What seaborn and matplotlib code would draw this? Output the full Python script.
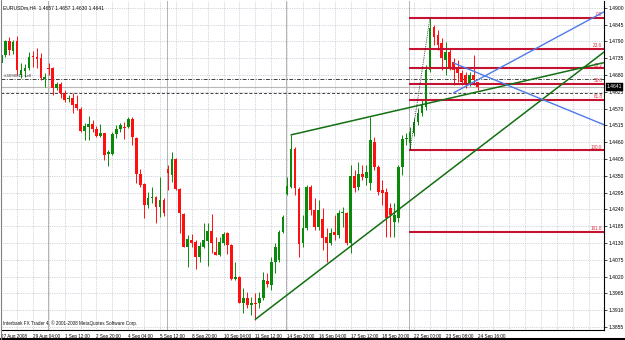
import numpy as np
import pandas as pd
import matplotlib
matplotlib.use("Agg")
import matplotlib.pyplot as plt
from matplotlib.lines import Line2D
import seaborn as sns

# ---------------- data (EURUSDm, H4) ----------------
opens = [1.4719, 1.4745, 1.4791, 1.4759, 1.4791, 1.4680, 1.4693, 1.4703, 1.4742, 1.4739,
         1.4736, 1.4667, 1.4703, 1.4703, 1.4638, 1.4651, 1.4621, 1.4602, 1.4605, 1.4585,
         1.4569, 1.4497, 1.4510, 1.4520, 1.4503, 1.4480, 1.4490, 1.4421, 1.4421, 1.4487,
         1.4503, 1.4510, 1.4510, 1.4536, 1.4474, 1.4356, 1.4323, 1.4254, 1.4277, 1.4281,
         1.4248, 1.4271, 1.4372, 1.4353, 1.4405, 1.4307, 1.4225, 1.4117, 1.4140, 1.4133,
         1.4084, 1.4117, 1.4137, 1.4169, 1.4101, 1.4091, 1.4130, 1.4163, 1.4124, 1.4012,
         1.4019, 1.3934, 1.3950, 1.3927, 1.3934, 1.3934, 1.3950, 1.4006, 1.3993, 1.4068,
         1.4074, 1.4166, 1.4290, 1.4313, 1.4438, 1.4307, 1.4130, 1.4179, 1.4313, 1.4238,
         1.4182, 1.4209, 1.4150, 1.4130, 1.4166, 1.4156, 1.4228, 1.4228, 1.4130, 1.4349,
         1.4313, 1.4356, 1.4343, 1.4327, 1.4461, 1.4379, 1.4304, 1.4297, 1.4245, 1.4199,
         1.4212, 1.4379, 1.4471, 1.4457, 1.4490, 1.4526, 1.4556, 1.4575, 1.4696, 1.4837,
         1.4811, 1.4785, 1.4729, 1.4755, 1.4723, 1.4703, 1.4687, 1.4680, 1.4654, 1.4680,
         1.4657]
highs = [1.4752, 1.4795, 1.4804, 1.4795, 1.4808, 1.4719, 1.4716, 1.4755, 1.4759, 1.4768,
         1.4752, 1.4687, 1.4719, 1.4706, 1.4657, 1.4657, 1.4631, 1.4615, 1.4621, 1.4615,
         1.4575, 1.4523, 1.4546, 1.4533, 1.4513, 1.4520, 1.4490, 1.4434, 1.4493, 1.4516,
         1.4523, 1.4526, 1.4543, 1.4543, 1.4477, 1.4372, 1.4327, 1.4297, 1.4313, 1.4284,
         1.4346, 1.4277, 1.4385, 1.4428, 1.4408, 1.4310, 1.4228, 1.4156, 1.4160, 1.4140,
         1.4133, 1.4195, 1.4195, 1.4225, 1.4150, 1.4150, 1.4166, 1.4166, 1.4127, 1.4068,
         1.4022, 1.3983, 1.3970, 1.3953, 1.3966, 1.3970, 1.4035, 1.4032, 1.4084, 1.4130,
         1.4173, 1.4222, 1.4346, 1.4484, 1.4444, 1.4313, 1.4222, 1.4320, 1.4320, 1.4277,
         1.4271, 1.4245, 1.4179, 1.4179, 1.4222, 1.4238, 1.4248, 1.4232, 1.4385, 1.4369,
         1.4395, 1.4385, 1.4385, 1.4543, 1.4477, 1.4385, 1.4336, 1.4310, 1.4261, 1.4261,
         1.4385, 1.4484, 1.4490, 1.4510, 1.4539, 1.4572, 1.4598, 1.4713, 1.4867, 1.4844,
         1.4827, 1.4801, 1.4788, 1.4768, 1.4736, 1.4729, 1.4696, 1.4690, 1.4690, 1.4745,
         1.4657]
lows = [1.4709, 1.4739, 1.4745, 1.4749, 1.4680, 1.4670, 1.4674, 1.4696, 1.4706, 1.4703,
        1.4664, 1.4641, 1.4680, 1.4615, 1.4631, 1.4605, 1.4592, 1.4592, 1.4556, 1.4565,
        1.4493, 1.4467, 1.4467, 1.4493, 1.4477, 1.4477, 1.4402, 1.4382, 1.4418, 1.4474,
        1.4493, 1.4471, 1.4507, 1.4451, 1.4327, 1.4313, 1.4212, 1.4245, 1.4261, 1.4195,
        1.4215, 1.4218, 1.4304, 1.4330, 1.4304, 1.4163, 1.4117, 1.4051, 1.4117, 1.4045,
        1.4068, 1.4114, 1.4055, 1.4097, 1.4091, 1.4088, 1.4124, 1.4094, 1.4009, 1.4009,
        1.3934, 1.3901, 1.3917, 1.3894, 1.3878, 1.3917, 1.3943, 1.3986, 1.3976, 1.4032,
        1.4068, 1.4163, 1.4287, 1.4310, 1.4287, 1.4084, 1.4117, 1.4173, 1.4222, 1.4173,
        1.4173, 1.4107, 1.4068, 1.4124, 1.4140, 1.4146, 1.4182, 1.4124, 1.4097, 1.4297,
        1.4304, 1.4336, 1.4320, 1.4304, 1.4369, 1.4287, 1.4254, 1.4150, 1.4150, 1.4150,
        1.4199, 1.4353, 1.4451, 1.4435, 1.4480, 1.4516, 1.4546, 1.4565, 1.4690, 1.4778,
        1.4762, 1.4696, 1.4680, 1.4696, 1.4647, 1.4657, 1.4647, 1.4638, 1.4644, 1.4647,
        1.4630]
closes = [1.4745, 1.4791, 1.4762, 1.4788, 1.4696, 1.4696, 1.4703, 1.4739, 1.4739, 1.4732,
          1.4670, 1.4674, 1.4700, 1.4638, 1.4651, 1.4621, 1.4598, 1.4605, 1.4582, 1.4572,
          1.4497, 1.4513, 1.4520, 1.4503, 1.4480, 1.4490, 1.4418, 1.4428, 1.4487, 1.4503,
          1.4516, 1.4507, 1.4536, 1.4477, 1.4356, 1.4320, 1.4254, 1.4277, 1.4281, 1.4248,
          1.4271, 1.4228, 1.4359, 1.4405, 1.4307, 1.4228, 1.4117, 1.4143, 1.4130, 1.4084,
          1.4120, 1.4140, 1.4169, 1.4130, 1.4091, 1.4133, 1.4160, 1.4124, 1.4012, 1.4019,
          1.3934, 1.3950, 1.3927, 1.3934, 1.3930, 1.3950, 1.4009, 1.3996, 1.4068, 1.4117,
          1.4166, 1.4215, 1.4317, 1.4438, 1.4310, 1.4127, 1.4179, 1.4313, 1.4238, 1.4182,
          1.4238, 1.4146, 1.4130, 1.4163, 1.4156, 1.4228, 1.4232, 1.4130, 1.4349, 1.4310,
          1.4356, 1.4346, 1.4363, 1.4467, 1.4379, 1.4297, 1.4294, 1.4212, 1.4222, 1.4222,
          1.4379, 1.4471, 1.4474, 1.4493, 1.4526, 1.4556, 1.4582, 1.4696, 1.4834, 1.4804,
          1.4778, 1.4736, 1.4755, 1.4706, 1.4696, 1.4687, 1.4657, 1.4647, 1.4680, 1.4664,
          1.4641]

time_labels = ["27 Aug 2008", "29 Aug 04:00", "1 Sep 12:00", "2 Sep 20:00", "4 Sep 04:00",
               "5 Sep 12:00", "8 Sep 20:00", "10 Sep 04:00", "11 Sep 12:00", "14 Sep 20:00",
               "16 Sep 04:00", "17 Sep 12:00", "18 Sep 20:00", "22 Sep 00:00", "23 Sep 08:00",
               "24 Sep 16:00"]
bars_per_label = 8
price_ticks = [1.3855, 1.3910, 1.3965, 1.4020, 1.4075, 1.4130, 1.4185, 1.4240, 1.4295, 1.4350,
               1.4405, 1.4460, 1.4515, 1.4570, 1.4625, 1.4680, 1.4735, 1.4790, 1.4845, 1.4900]
week_starts = [12, 42, 72, 103]

fib_high = 1.4868
fib_low = 1.4434
fib_levels = [0.0, 23.6, 38.2, 50.0, 61.8, 100.0, 161.8]
fib_anchor_bars = [103, 108]

green_line_1 = ([64, 120], [1.3880, 1.4438])
green_line_2 = ([73, 93], [1.4484, 1.4544])
blue_line_1 = ([114, 120], [1.4622, 1.4664])
blue_line_2 = ([114, 120], [1.4719, 1.4687])

order_price = 1.4667
order_text = "#4090811 sell"
level_price = 1.4621
bid_price = 1.4641
title_text = "EURUSDm,H4  1.4657 1.4657 1.4630 1.4641"
copyright_text = "Interbank FX Trader 4, \u00a9 2001-2008 MetaQuotes Software Corp."

# ---------------- style ----------------
sns.set_style("white")
plt.rcParams["font.family"] = ["Liberation Sans", "DejaVu Sans"]

W, H = 625, 340
fig = plt.figure(figsize=(W / 100, H / 100), dpi=100)
ax = fig.add_axes([1 / W, 10 / H, 603 / W, 329 / H])
xmin, xmax = -0.05, 151.84
ymin, ymax = 1.38452, 1.49223
ax.set_xlim(xmin, xmax)
ax.set_ylim(ymin, ymax)

df = pd.DataFrame({"open": opens, "high": highs, "low": lows, "close": closes})
df["bar"] = np.arange(len(df))
bull = df["close"] >= df["open"]
GREEN, RED = "#0A8A0A", "#FF1010"
colors = np.where(bull, GREEN, RED)

fs = 3.6
fs_x = 3.35
# grid
grid_x = np.arange(0, xmax, 4)
ax.vlines(grid_x, ymin, ymax, colors="#A8B0C0", linestyles=(0, (1, 1.6)), lw=0.5, zorder=0)
ax.hlines(price_ticks, xmin, xmax, colors="#A8B0C0", linestyles=(0, (1, 1.6)), lw=0.5, zorder=0)
ax.vlines(np.array(week_starts) - 0.25, ymin, ymax, colors="#505050",
          linestyles=(0, (1.2, 1.2)), lw=0.6, zorder=0.5)

# order / price lines
ax.axhline(order_price, color="#404040", lw=0.7, ls=(0, (4, 1.5, 1, 1.5)), zorder=1)
ax.axhline(level_price, color="#404040", lw=0.7, ls=(0, (3, 2)), zorder=1)
ax.axhline(bid_price, color="#B8B8B8", lw=0.8, zorder=1)
ax.text(0.6, order_price + 0.0004, order_text, fontsize=fs - 0.4, color="#404040",
        ha="left", va="bottom", zorder=3)

# candles
ax.vlines(df["bar"], df["low"], df["high"], colors=colors, lw=0.7, zorder=2)
body_low = df[["open", "close"]].min(axis=1)
body_h = (df["close"] - df["open"]).abs().clip(lower=0.00025)
ax.bar(df["bar"], body_h, bottom=body_low, width=0.7, color=colors, linewidth=0, zorder=2.5)

# fibonacci
FIB = "#C41230"
rng = fib_high - fib_low
for lvl in fib_levels:
    p = fib_high - rng * lvl / 100.0
    ax.hlines(p, fib_anchor_bars[0] - 0.25, xmax, colors=FIB, lw=1.5, zorder=3)
    ax.text(xmax - 0.4, p + 0.0002, f"{lvl:.1f}", fontsize=fs - 0.3, color="#E03040",
            ha="right", va="bottom", zorder=4)
ax.plot(fib_anchor_bars, [fib_low, fib_high], color="#202020", lw=0.6, ls=(0, (1, 1.2)), zorder=3)


def ray(pts, color, lw):
    (x0, x1), (y0, y1) = pts
    slope = (y1 - y0) / (x1 - x0)
    xs = np.array([x0, xmax])
    ys = y0 + slope * (xs - x0)
    sns.lineplot(x=xs, y=ys, ax=ax, color=color, lw=lw, zorder=4, legend=False)


ray(green_line_1, "#127012", 1.1)
ray(green_line_2, "#127012", 1.1)
ray(blue_line_1, "#4D7BEA", 1.0)
ray(blue_line_2, "#4D7BEA", 1.0)

# axes styling
for s in ["top", "left"]:
    ax.spines[s].set_visible(False)
for s in ["right", "bottom"]:
    ax.spines[s].set_color("black")
    ax.spines[s].set_linewidth(0.8)
ax.yaxis.tick_right()
ax.set_yticks(price_ticks)
ax.set_yticklabels([f"{p:.4f}" for p in price_ticks])
tick_bars = [i * bars_per_label for i in range(len(time_labels))]
ax.set_xticks(tick_bars)
ax.set_xticklabels(time_labels, ha="left")
ax.tick_params(axis="y", length=1.8, width=0.5, pad=1.2, labelsize=fs, colors="black")
ax.tick_params(axis="x", length=2, width=0.5, pad=0.6, labelsize=fs_x, colors="black")
ax.set_xlabel("")
ax.set_ylabel("")

# current price box
ax.annotate(f"{bid_price:.4f}", xy=(1.0, bid_price), xycoords=("axes fraction", "data"),
            xytext=(2, 0), textcoords="offset points", fontsize=fs, color="white",
            ha="left", va="center", annotation_clip=False, zorder=10,
            bbox=dict(boxstyle="square,pad=0.25", fc="black", ec="black", lw=0.3))

ax.text(0.004, 0.988, title_text, transform=ax.transAxes, fontsize=fs, color="#101010",
        ha="left", va="top")
ax.text(0.003, 0.012, copyright_text, transform=ax.transAxes, fontsize=fs_x, color="#101010",
        ha="left", va="bottom")

fig.add_artist(Line2D([0, 1], [1.5 / H, 1.5 / H], color="black", lw=2.2))
fig.add_artist(Line2D([0.8 / W, 0.8 / W], [0, 1], color="#808080", lw=0.8))

fig.savefig("out.png", dpi=100, facecolor="white")
